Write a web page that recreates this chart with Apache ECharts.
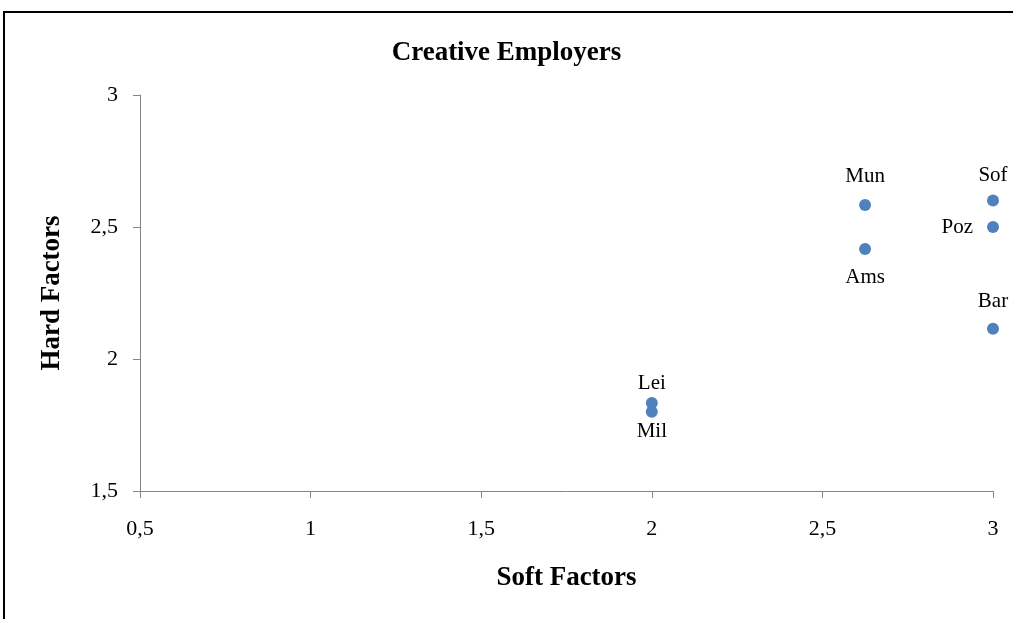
<!DOCTYPE html>
<html><head><meta charset="utf-8">
<script src="https://cdn.jsdelivr.net/npm/echarts@6/dist/echarts.min.js"></script>
<style>
html,body{margin:0;padding:0;background:#fff;overflow:hidden}
#frame{position:absolute;left:3px;top:11px;width:1020px;height:700px;border-left:2px solid #000;border-top:2px solid #000;box-sizing:border-box}
#c{position:absolute;left:0;top:0;width:1013px;height:619px}
</style></head>
<body>
<div id="frame"></div>
<div id="c"></div>
<script>
const cities = ["Mun","Ams","Sof","Poz","Bar","Lei","Mil"];
const softFactors = [2.625, 2.625, 3.0, 3.0, 3.0, 2.0, 2.0];
const hardFactors = [2.583, 2.417, 2.6, 2.5, 2.115, 1.833, 1.8];
const xTicks = [0.5, 1, 1.5, 2, 2.5, 3];
const yTicks = [1.5, 2, 2.5, 3];

// label placement (style only)
const labelPos = ["top","bottom","top","left","top","top","bottom"];
const labelDist = [12, 12, 9, 14, 11, 3, 3];

const fmt = v => String(v).replace('.', ',');
const serif = "'Liberation Serif','Times New Roman',serif";
const axisGray = '#868686';

const chart = echarts.init(document.getElementById('c'), null, {renderer:'canvas'});
chart.setOption({
  animation:false,
  title:{text:'Creative Employers', left:'center', top:35,
    textStyle:{fontFamily:serif, fontWeight:'bold', fontSize:27, color:'#000'}},
  grid:{left:140, right:20, top:95, bottom:128},
  xAxis:{type:'value', min:xTicks[0], max:xTicks[xTicks.length-1], interval:0.5,
    name:'Soft Factors', nameLocation:'middle', nameGap:74,
    nameTextStyle:{fontFamily:serif, fontWeight:'bold', fontSize:27, color:'#000'},
    axisLine:{show:true, lineStyle:{color:axisGray}},
    axisTick:{show:true, length:7, inside:false, lineStyle:{color:axisGray}},
    axisLabel:{fontFamily:serif, fontSize:22, color:'#000', margin:27, formatter:fmt},
    splitLine:{show:false}},
  yAxis:{type:'value', min:yTicks[0], max:yTicks[yTicks.length-1], interval:0.5,
    name:'Hard Factors', nameLocation:'middle', nameGap:74, nameRotate:90,
    nameTextStyle:{fontFamily:serif, fontWeight:'bold', fontSize:27, color:'#000'},
    axisLine:{show:true, lineStyle:{color:axisGray}},
    axisTick:{show:true, length:7, lineStyle:{color:axisGray}},
    axisLabel:{fontFamily:serif, fontSize:22, color:'#000', margin:22, formatter:fmt},
    splitLine:{show:false}},
  series:[{
    type:'scatter', symbol:'circle', symbolSize:12,
    itemStyle:{color:'#4F81BD', opacity:1},
    emphasis:{disabled:true},
    data: cities.map((c,i)=>({value:[softFactors[i], hardFactors[i]], name:c,
      label:{show:true, position:labelPos[i], formatter:c, distance:labelDist[i],
        fontFamily:serif, fontSize:21, color:'#000', opacity:1}}))
  }]
});
</script>
</body></html>
